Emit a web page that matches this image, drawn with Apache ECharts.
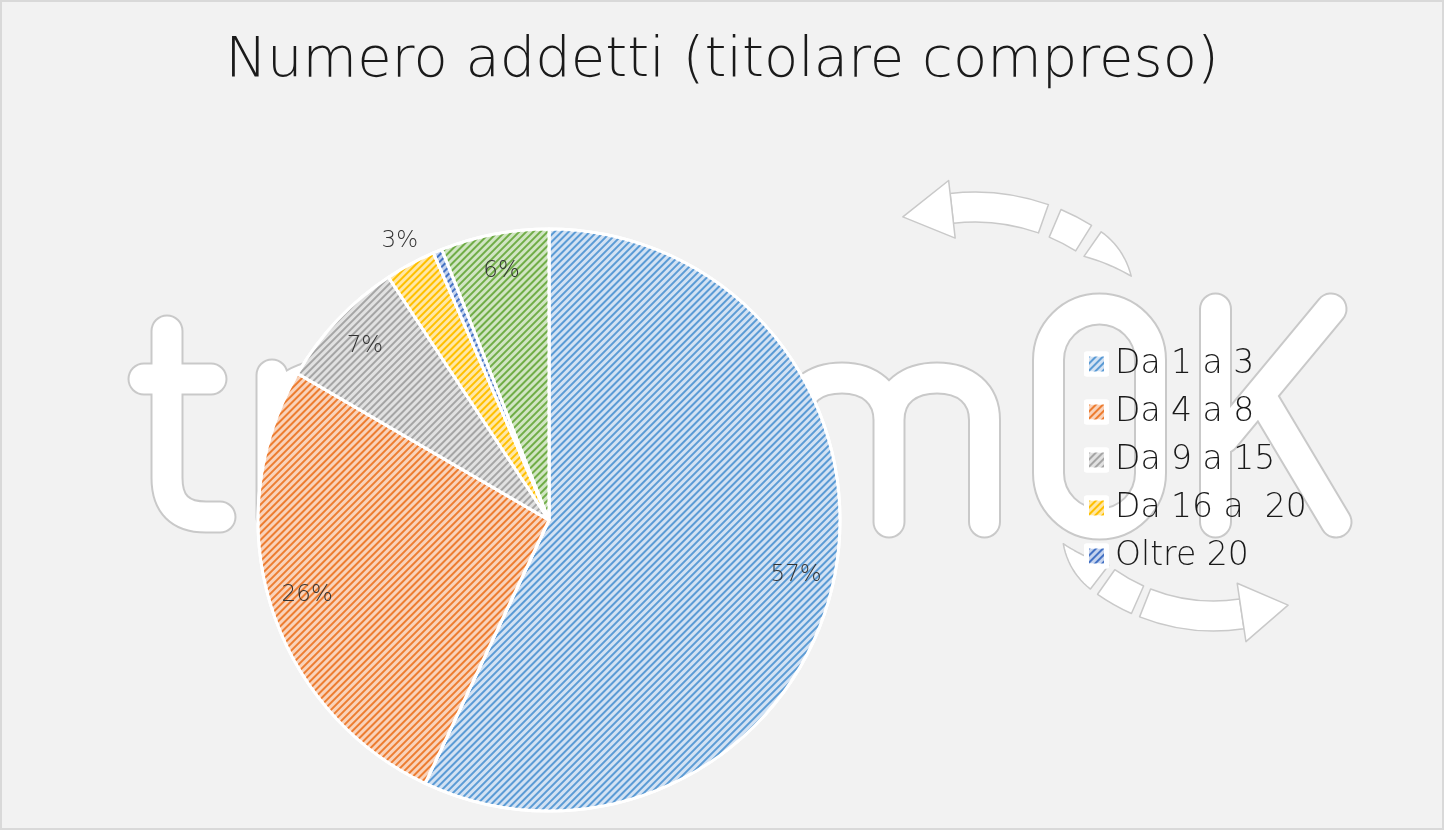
<!DOCTYPE html>
<html>
<head>
<meta charset="utf-8">
<title>Numero addetti</title>
<script src="https://cdn.jsdelivr.net/npm/echarts@6/dist/echarts.min.js"></script>
<style>
	html, body {
		margin: 0;
		padding: 0;
		background: #f2f2f2;
	}
	#chart {
		width: 1444px;
		height: 830px;
	}
</style>
</head>
<body>
<div id="chart"></div>
<script>
// categorie e quote (%)
const categories = ["Da 1 a 3", "Da 4 a 8", "Da 9 a 15", "Da 16 a  20", "Oltre 20", "Non indicato"];
const values = [57.0, 26.4, 7.3, 2.8, 0.5, 6.0];
const legendNames = ["Da 1 a 3", "Da 4 a 8", "Da 9 a 15", "Da 16 a  20", "Oltre 20"];
const colors = ["#5B9BD5", "#ED7D31", "#A5A5A5", "#FFC000", "#4472C4", "#70AD47"];
const tints = ["#d3e2f3", "#f9d3bb", "#e1e1e1", "#ffe7a6", "#c5d3ee", "#d1e5c3"];
const hiddenLabels = ["Oltre 20"];
const outsideLabels = ["Da 16 a  20"];

const CX = 549, CY = 520, R = 291;
const FONT = "DejaVu Sans";

// --- filigrana (solo decorazione) ---
const letters =
	// t
	"M167,331 L167,478 Q167,517 206,517 L220,517 M144,379 L211,379 " +
	// r
	"M272,375 L272,517 M272,420 C272,392 300,375 330,375 " +
	// m
	"M795,522 L795,420 C795,392 815,378 842,378 C870,378 889,394 889,420 L889,522 " +
	"M889,420 C889,392 910,378 937,378 C966,378 984.5,394 984.5,420 L984.5,522 " +
	// 0
	"M1048.5,360 A51,51 0 0 1 1150.5,360 L1150.5,473 A51,51 0 0 1 1048.5,473 Z " +
	// K
	"M1215.5,309 L1215.5,522 M1331,309 L1224,438 M1262,398 L1336,522";

echarts.graphic.registerShape("watermarkLetters", echarts.graphic.extendPath(letters, {}));

function strokeLetters() {
	return [
		{ type: "watermarkLetters", z: 0, silent: true, style: { fill: "none", stroke: "#c9c9c9", lineWidth: 33, lineCap: "round", lineJoin: "round" } },
		{ type: "watermarkLetters", z: 1, silent: true, style: { fill: "none", stroke: "#ffffff", lineWidth: 29, lineCap: "round", lineJoin: "round" } },
	];
}

const wmStyle = { fill: "#ffffff", stroke: "#c9c9c9", lineWidth: 1.5, lineJoin: "round" };

function deg(a) {
	return (a * Math.PI) / 180;
}
function pt(cx, cy, r, a) {
	return [cx + r * Math.cos(deg(a)), cy + r * Math.sin(deg(a))];
}
function band(cx, cy, r0, r, a0, a1) {
	return {
		type: "sector", z: 0, silent: true,
		shape: { cx: cx, cy: cy, r0: r0, r: r, startAngle: deg(a0), endAngle: deg(a1) },
		style: wmStyle,
	};
}
function head(cx, cy, r0, r, base, tip, tipR) {
	return {
		type: "polygon", z: 0, silent: true,
		shape: { points: [pt(cx, cy, r0, base), pt(cx, cy, tipR, tip), pt(cx, cy, r, base)] },
		style: wmStyle,
	};
}
// pezzo finale che si assottiglia fino a una punta
function taper(cx, cy, r0, r, aStart, aEnd, tipR) {
	const outer = [];
	const inner = [];
	const n = 12;
	for (let k = 0; k <= n; k++) {
		const t = k / n;
		const a = aStart + (aEnd - aStart) * t;
		outer.push(pt(cx, cy, r - (r - tipR) * t * t, a));
		inner.push(pt(cx, cy, r0 + (tipR - r0) * t, a));
	}
	return {
		type: "polygon", z: 0, silent: true,
		shape: { points: outer.concat(inner.reverse()) },
		style: wmStyle,
	};
}
const arrows = [
	band(975, 412, 190, 220, -96.5, -70.5),
	band(975, 412, 190, 220, -67, -58),
	taper(975, 412, 190, 220, -55, -41, 207),
	head(975, 412, 175, 233, -96.5, -110.3, 208),
	band(1214, 428, 173, 203, 81.5, 111.5),
	band(1214, 428, 173, 203, 114, 125),
	taper(1214, 428, 173, 203, 127.5, 142.5, 190),
	head(1214, 428, 157, 216, 81.5, 67.3, 192),
];

const pieData = categories.map((name, i) => ({
	name: name,
	value: values[i],
	itemStyle: {
		color: tints[i],
		decal: {
			symbol: "rect",
			symbolSize: 1,
			color: colors[i],
			dashArrayX: [1, 0],
			dashArrayY: [2, 3],
			rotation: -Math.PI / 4,
		},
	},
}));

const labelData = categories.map((name, i) => {
	const item = { name: name, value: values[i] };
	if (hiddenLabels.includes(name)) {
		item.label = { show: false };
	} else if (outsideLabels.includes(name)) {
		item.label = { position: "outside", distanceToLabelLine: -20 };
		item.labelLine = { show: false, length: 26, length2: 0 };
	}
	return item;
});

const chart = echarts.init(document.getElementById("chart"));
const option = {
	backgroundColor: "#f2f2f2",
	animation: false,
	title: {
		text: "Numero addetti (titolare compreso)",
		left: "center",
		top: 28,
		textStyle: {
			fontFamily: FONT,
			fontWeight: 200,
			fontSize: 56,
			color: "#1a1a1a",
		},
	},
	legend: {
		orient: "vertical",
		left: 1079,
		top: 342,
		data: legendNames,
		icon: "path://M0,0h1v1h-1z",
		itemWidth: 27,
		itemHeight: 20,
		itemGap: 14,
		itemStyle: {
			borderColor: "#ffffff",
			borderWidth: 5,
		},
		textStyle: {
			fontFamily: FONT,
			fontWeight: 200,
			fontSize: 33,
			lineHeight: 34,
			color: "#1a1a1a",
		},
	},
	graphic: [
		{
			type: "rect", z: 0, silent: true,
			shape: { x: 1, y: 1, width: 1442, height: 828 },
			style: { fill: "#f2f2f2", stroke: "#d9d9d9", lineWidth: 2 },
		},
		...arrows,
		...strokeLetters(),
	],
	series: [
		{
			name: "Numero addetti",
			type: "pie",
			center: [CX, CY],
			radius: R,
			startAngle: 90,
			clockwise: true,
			silent: true,
			itemStyle: {
				borderColor: "#ffffff",
				borderWidth: 3,
			},
			label: { show: false },
			labelLine: { show: false },
			data: pieData,
		},
		{
			// serie trasparente solo per le etichette vicino al bordo
			name: "etichette",
			type: "pie",
			center: [CX, CY],
			radius: [R * 0.72, R],
			startAngle: 90,
			clockwise: true,
			silent: true,
			z: 3,
			itemStyle: { color: "rgba(0,0,0,0)", borderWidth: 0 },
			label: {
				show: true,
				position: "inside",
				formatter: (p) => Math.round(p.percent) + "%",
				fontFamily: FONT,
				fontWeight: 200,
				fontSize: 23,
				color: "#333333",
			},
			labelLine: { show: false },
			data: labelData,
		},
	],
};
chart.setOption(option);
window.addEventListener("resize", () => chart.resize());
</script>
</body>
</html>
